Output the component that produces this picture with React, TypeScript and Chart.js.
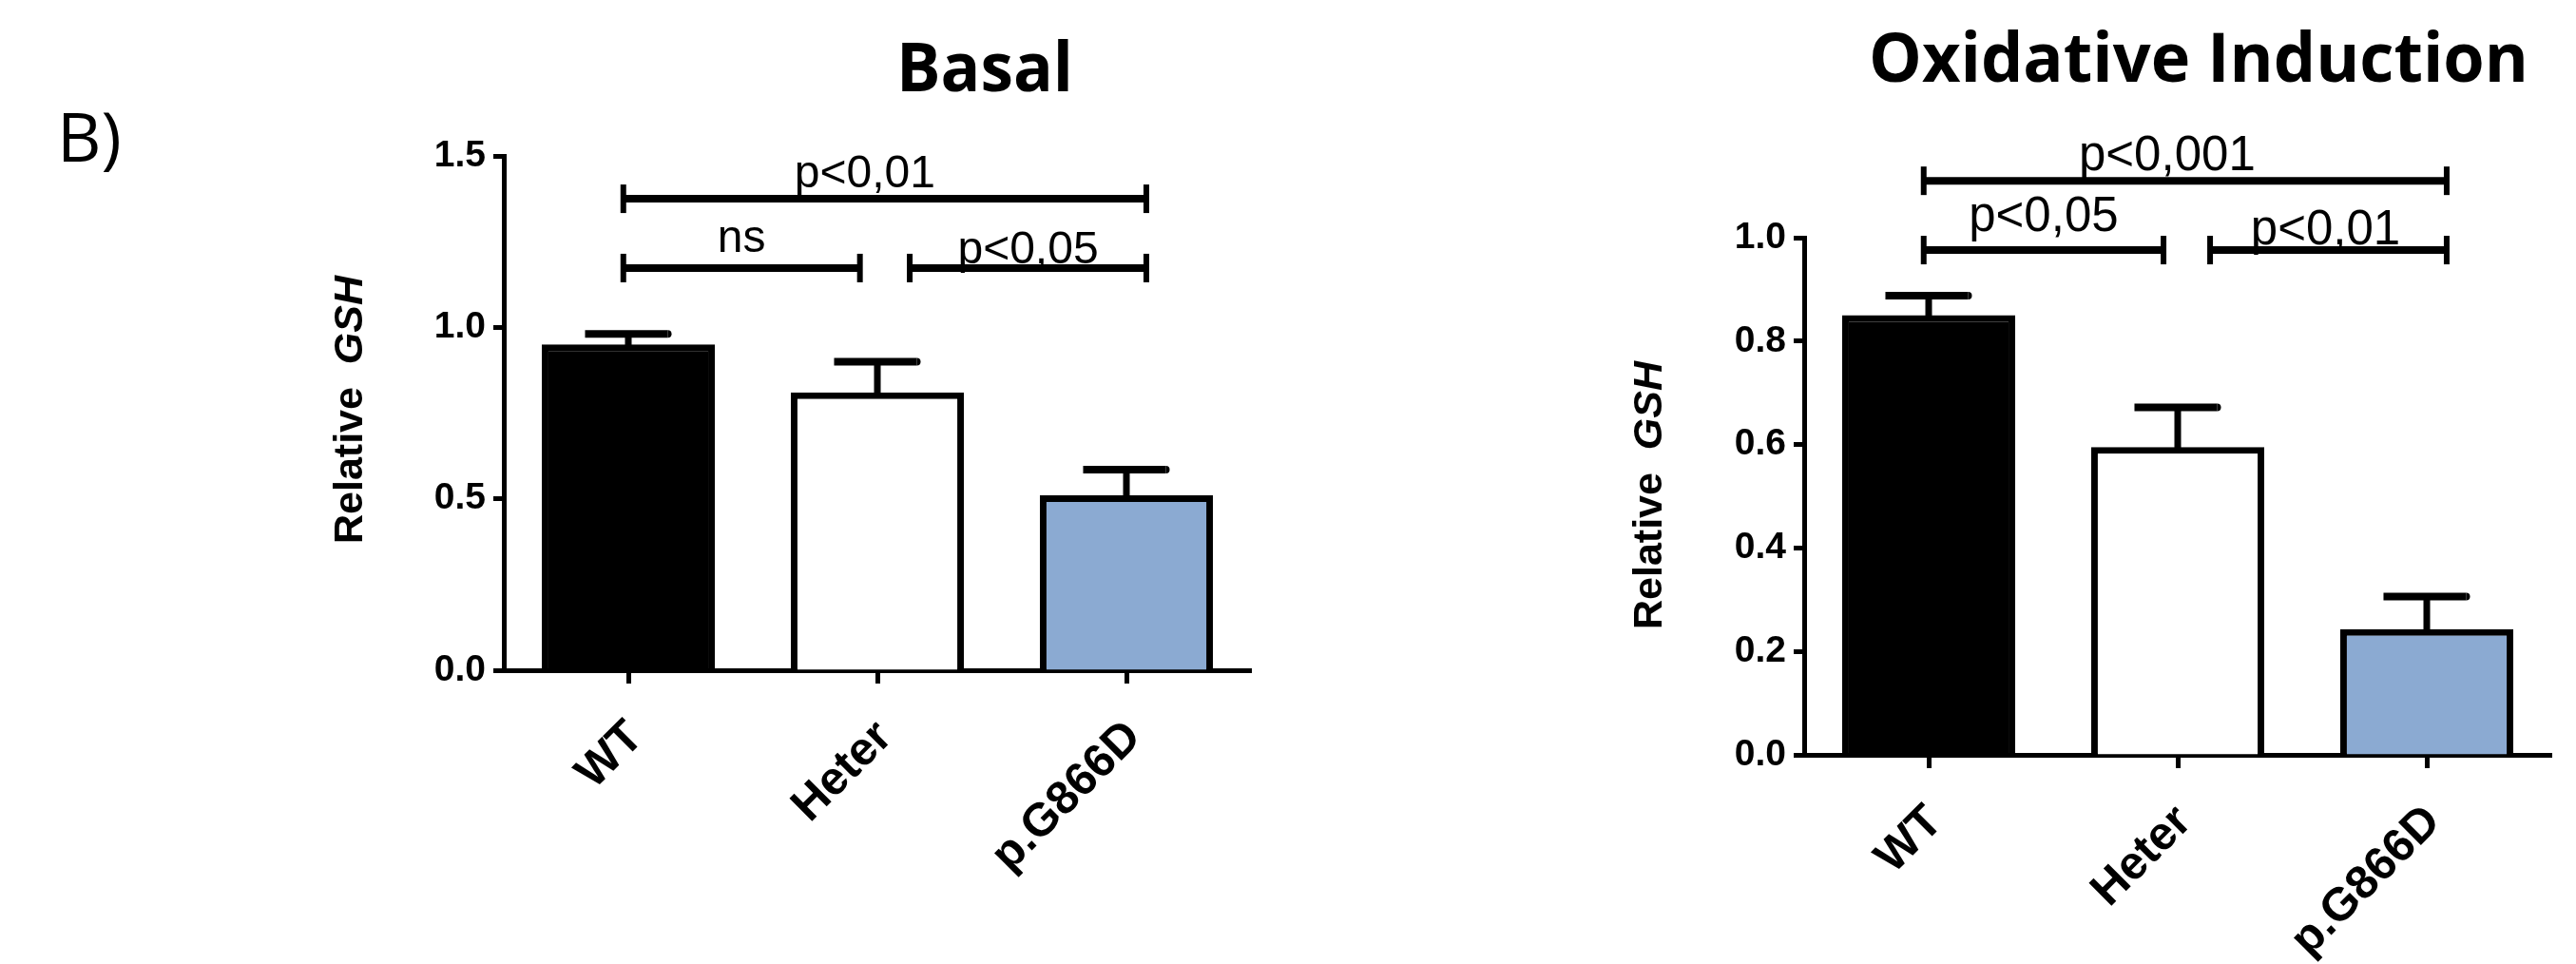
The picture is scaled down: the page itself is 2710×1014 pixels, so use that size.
import React, { useEffect, useRef } from 'react';
import { Chart, registerables } from 'chart.js';

Chart.register(...registerables);

// ---------------- DATA ----------------
const categories = ['WT', 'Heter', 'p.G866D'];
const barColors = ['#000000', '#FFFFFF', '#8BAAD2'];

const basalMeans = [0.95, 0.81, 0.51];
const basalErrors = [0.031, 0.09, 0.075];
const basalTickValues = [0, 0.5, 1.0, 1.5];
const basalTickLabels = ['0.0', '0.5', '1.0', '1.5'];
const basalBracketFrom = [-0.02, -0.02, 1.13];
const basalBracketTo = [2.08, 0.93, 2.08];
const basalBracketLevel = [1.375, 1.173, 1.173];
const basalBracketLabels = ['p<0,01', 'ns', 'p<0,05'];

const oxMeans = [0.85, 0.595, 0.243];
const oxErrors = [0.038, 0.077, 0.063];
const oxTickValues = [0, 0.2, 0.4, 0.6, 0.8, 1.0];
const oxTickLabels = ['0.0', '0.2', '0.4', '0.6', '0.8', '1.0'];
const oxBracketFrom = [-0.02, -0.02, 1.13];
const oxBracketTo = [2.08, 0.943, 2.08];
const oxBracketLevel = [1.11, 0.976, 0.976];
const oxBracketLabels = ['p<0,001', 'p<0,05', 'p<0,01'];

// ---------------- STYLE ----------------
const FONT = '"Liberation Sans", Arial, sans-serif';
const TITLE_FONT = '"Open Sans", "Noto Sans", sans-serif';

type PanelCfg = {
  left: number;
  width: number;
  means: number[];
  errors: number[];
  yMax: number;
  tickValues: number[];
  tickLabels: string[];
  bFrom: number[];
  bTo: number[];
  bLevel: number[];
  bLabels: string[];
  bLabelDx: number[];
  bLabelDy: number[];
  annFont: number;
  padding: { left: number; right: number; top: number; bottom: number };
  xAxisHeight: number;
  xLabelPadding: number;
  xLabelOffset: number;
  title: string;
  titleX: number;
  titleY: number;
  titleMaxW: number;
  yTitleX: number;
  yTitleY: number;
  panelLetter?: boolean;
};

const panels: PanelCfg[] = [
  {
    left: 0,
    width: 1400,
    means: basalMeans,
    errors: basalErrors,
    yMax: 1.5,
    tickValues: basalTickValues,
    tickLabels: basalTickLabels,
    bFrom: basalBracketFrom,
    bTo: basalBracketTo,
    bLevel: basalBracketLevel,
    bLabels: basalBracketLabels,
    bLabelDx: [-21, 0, 0],
    bLabelDy: [12, 17, 5],
    annFont: 48,
    padding: { left: 430, right: 84, top: 164, bottom: 0 },
    xAxisHeight: 309,
    xLabelPadding: 28,
    xLabelOffset: 8,
    title: 'Basal',
    titleX: 1036,
    titleY: 96,
    titleMaxW: 186,
    yTitleX: 366,
    yTitleY: 431,
    panelLetter: true,
  },
  {
    left: 1400,
    width: 1310,
    means: oxMeans,
    errors: oxErrors,
    yMax: 1.0,
    tickValues: oxTickValues,
    tickLabels: oxTickLabels,
    bFrom: oxBracketFrom,
    bTo: oxBracketTo,
    bLevel: oxBracketLevel,
    bLabels: oxBracketLabels,
    bLabelDx: [-19, 0, -3],
    bLabelDy: [11, 20, 6],
    annFont: 51,
    padding: { left: 398, right: 26, top: 250, bottom: 0 },
    xAxisHeight: 220,
    xLabelPadding: 28,
    xLabelOffset: 7,
    title: 'Oxidative Induction',
    titleX: 913,
    titleY: 86,
    titleMaxW: 694,
    yTitleX: 333,
    yTitleY: 521,
  },
];

function makePlugin(cfg: PanelCfg) {
  return {
    id: 'panelExtras',
    afterDatasetsDraw(chart: any) {
      const ctx: CanvasRenderingContext2D = chart.ctx;
      const xs = chart.scales.x;
      const ys = chart.scales.y;
      const meta = chart.getDatasetMeta(0);
      ctx.save();
      ctx.strokeStyle = '#000';
      ctx.fillStyle = '#000';
      // error bars (upper only)
      meta.data.forEach((bar: any, i: number) => {
        const p = bar.getProps(['x', 'y', 'width'], true);
        const yErr = ys.getPixelForValue(cfg.means[i] + cfg.errors[i]);
        ctx.lineCap = 'butt';
        ctx.lineWidth = 7;
        ctx.beginPath();
        ctx.moveTo(p.x, p.y + 3);
        ctx.lineTo(p.x, yErr);
        ctx.stroke();
        const half = p.width / 4;
        ctx.lineWidth = 8;
        ctx.beginPath();
        ctx.moveTo(p.x - half, yErr);
        ctx.lineTo(p.x + half - 4, yErr);
        ctx.stroke();
        ctx.beginPath();
        ctx.arc(p.x + half - 4, yErr, 4, -Math.PI / 2, Math.PI / 2);
        ctx.fill();
      });
      // significance brackets
      cfg.bLabels.forEach((label, i) => {
        const x1 = xs.getPixelForValue(cfg.bFrom[i]);
        const x2 = xs.getPixelForValue(cfg.bTo[i]);
        const yy = ys.getPixelForValue(cfg.bLevel[i]);
        ctx.lineCap = 'butt';
        ctx.lineWidth = 8;
        ctx.beginPath();
        ctx.moveTo(x1, yy);
        ctx.lineTo(x2, yy);
        ctx.stroke();
        ctx.lineWidth = 6;
        [x1, x2].forEach((xx) => {
          ctx.beginPath();
          ctx.moveTo(xx, yy - 15);
          ctx.lineTo(xx, yy + 15);
          ctx.stroke();
        });
        ctx.font = `${cfg.annFont}px ${FONT}`;
        ctx.textAlign = 'center';
        ctx.textBaseline = 'alphabetic';
        ctx.fillText(label, (x1 + x2) / 2 + cfg.bLabelDx[i], yy - cfg.bLabelDy[i]);
      });
      ctx.restore();
    },
    afterDraw(chart: any) {
      const ctx: CanvasRenderingContext2D = chart.ctx;
      ctx.save();
      ctx.fillStyle = '#000';
      // title
      ctx.font = `bold 72px ${TITLE_FONT}`;
      ctx.textAlign = 'center';
      ctx.textBaseline = 'alphabetic';
      ctx.fillText(cfg.title, cfg.titleX, cfg.titleY, cfg.titleMaxW);
      if (cfg.panelLetter) {
        ctx.font = `72px ${TITLE_FONT}`;
        ctx.textAlign = 'left';
        ctx.fillText('B)', 60, 170);
      }
      // y-axis title with italic gene name
      const f1 = `bold 43px ${FONT}`;
      const f2 = `italic bold 43px ${FONT}`;
      ctx.translate(cfg.yTitleX, cfg.yTitleY);
      ctx.rotate(-Math.PI / 2);
      ctx.font = f1;
      const w1 = ctx.measureText('Relative  ').width;
      ctx.font = f2;
      const w2 = ctx.measureText('GSH').width;
      const start = -(w1 + w2) / 2;
      ctx.textAlign = 'left';
      ctx.font = f1;
      ctx.fillText('Relative  ', start, 15);
      ctx.font = f2;
      ctx.fillText('GSH', start + w1, 15);
      ctx.restore();
    },
  };
}

function Panel({ cfg }: { cfg: PanelCfg }) {
  const ref = useRef<HTMLCanvasElement>(null);
  useEffect(() => {
    const canvas = ref.current!;
    const chart = new Chart(canvas, {
      type: 'bar',
      data: {
        labels: categories,
        datasets: [
          {
            data: cfg.means,
            backgroundColor: barColors,
            borderColor: '#000000',
            borderWidth: 7,
            borderSkipped: 'start',
            barPercentage: 0.695,
            categoryPercentage: 1,
          },
        ],
      },
      options: {
        responsive: false,
        animation: false,
        devicePixelRatio: 1,
        layout: { padding: cfg.padding, autoPadding: false },
        plugins: {
          legend: { display: false },
          tooltip: { enabled: false },
        },
        scales: {
          x: {
            type: 'category',
            offset: true,
            grid: {
              offset: false,
              drawOnChartArea: false,
              drawTicks: true,
              tickLength: 14,
              tickWidth: 5,
              tickColor: '#000',
              color: '#000',
            },
            border: { display: true, color: '#000', width: 5 },
            ticks: {
              color: '#000',
              font: { family: FONT, weight: 'bold', size: 49 },
              minRotation: 45,
              maxRotation: 45,
              padding: cfg.xLabelPadding,
              labelOffset: cfg.xLabelOffset,
              autoSkip: false,
            },
            afterFit: (s: any) => {
              s.height = cfg.xAxisHeight;
            },
          },
          y: {
            min: 0,
            max: cfg.yMax,
            afterBuildTicks: (s: any) => {
              s.ticks = cfg.tickValues.map((v) => ({ value: v }));
            },
            grid: {
              drawOnChartArea: false,
              drawTicks: true,
              tickLength: 11,
              tickWidth: 5,
              tickColor: '#000',
              color: '#000',
            },
            border: { display: true, color: '#000', width: 5 },
            ticks: {
              color: '#000',
              font: { family: FONT, weight: 'bold', size: 39 },
              padding: 8,
              callback: (_v: any, i: number) => cfg.tickLabels[i],
            },
            afterFit: (s: any) => {
              s.width = 100;
            },
          },
        },
      } as any,
      plugins: [makePlugin(cfg)],
    });
    return () => chart.destroy();
  }, [cfg]);
  return (
    <canvas
      ref={ref}
      width={cfg.width}
      height={1014}
      style={{ position: 'absolute', left: cfg.left, top: 0, width: cfg.width, height: 1014 }}
    />
  );
}

export default function App() {
  return (
    <div
      style={{
        position: 'absolute',
        left: 0,
        top: 0,
        width: 2710,
        height: 1014,
        background: '#ffffff',
        overflow: 'hidden',
      }}
    >
      {panels.map((p, i) => (
        <Panel key={i} cfg={p} />
      ))}
    </div>
  );
}
